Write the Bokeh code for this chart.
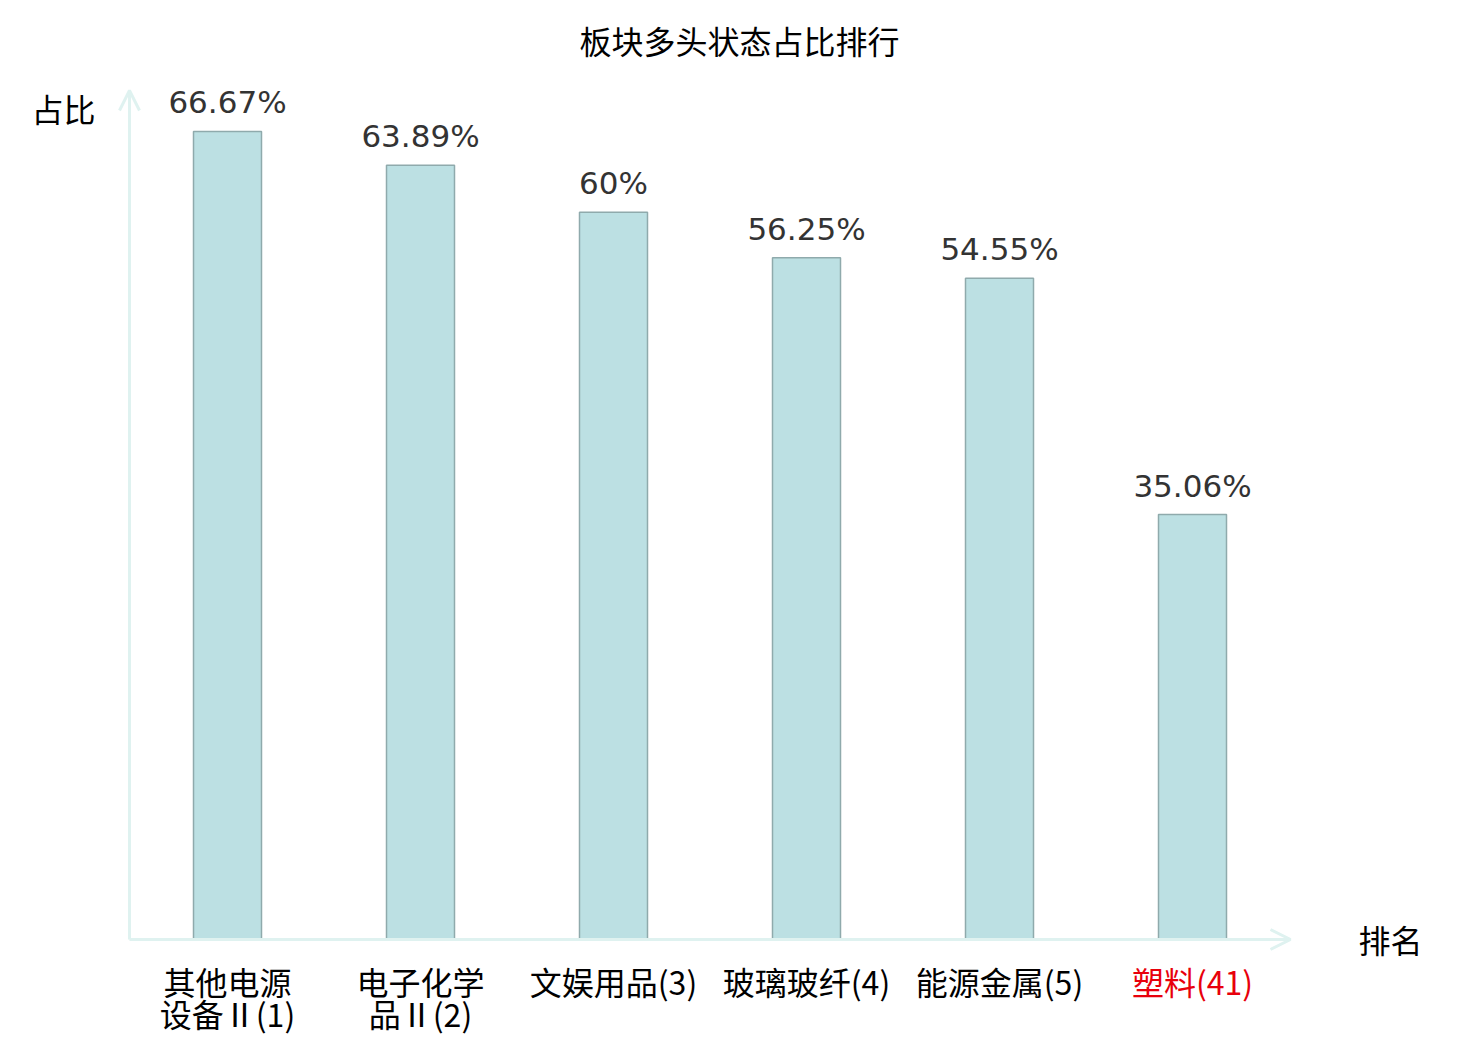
from bokeh.plotting import figure
from bokeh.models import Range1d, Arrow, OpenHead, ColumnDataSource, Label
from bokeh.core.properties import value
from bokeh.embed import file_html
from bokeh.resources import INLINE

categories_line1 = ["其他电源", "电子化学", "文娱用品(3)", "玻璃玻纤(4)", "能源金属(5)", "塑料(41)"]
categories_line2 = ["设备Ⅱ(1)", "品Ⅱ(2)", "", "", "", ""]
values = [66.67, 63.89, 60.0, 56.25, 54.55, 35.06]
value_labels = ["66.67%", "63.89%", "60%", "56.25%", "54.55%", "35.06%"]
label_colors = ["#000000", "#000000", "#000000", "#000000", "#000000", "#e8000b"]
title_text = "板块多头状态占比排行"
y_title = "占比"
x_title = "排名"

CJK = "Noto Sans CJK SC"
NUM = "DejaVu Sans"

W, H = 1470, 1036
X0, DX = 227.0, 193.0      # pixel of first category centre, pixel per category
Y0, DY = 939.0, 12.12      # pixel of value 0, pixel per percent

def px2x(px):
    return (px - X0) / DX

def px2y(py):
    return (Y0 - py) / DY

xs = list(range(len(values)))
src = ColumnDataSource(dict(x=xs, top=values, lab=value_labels,
                            l1=categories_line1, l2=categories_line2, col=label_colors))

p = figure(width=W, height=H, output_backend="svg", toolbar_location=None,
           x_range=Range1d(px2x(0), px2x(W)), y_range=Range1d(px2y(H), px2y(0)),
           min_border=0)
p.axis.visible = False
p.grid.visible = False
p.outline_line_color = None
p.background_fill_color = "white"
p.border_fill_color = "white"

p.vbar(x="x", top="top", bottom=0, width=68 / DX, source=src,
       fill_color="#bce0e3", line_color="#8faaac", line_width=1.5)

p.text(x="x", y="top", text="lab", source=src, text_align="center", text_baseline="alphabetic",
       y_offset=-16 - 13, text_font=value(NUM), text_font_size="31px", text_color="#333333")

p.text(x="x", y=0, text="l1", source=src, text_align="center", text_baseline="middle",
       y_offset=41, text_font=value(CJK), text_font_size="32px", text_color="col")
p.text(x="x", y=0, text="l2", source=src, text_align="center", text_baseline="middle",
       y_offset=73, text_font=value(CJK), text_font_size="32px", text_color="col")

axis_color = "#dff2f0"
p.add_layout(Arrow(x_start=px2x(129), y_start=0, x_end=px2x(1290), y_end=0,
                   line_color=axis_color, line_width=3,
                   end=OpenHead(size=20, line_color=axis_color, line_width=3)))
p.add_layout(Arrow(x_start=px2x(129), y_start=0, x_end=px2x(129), y_end=px2y(90),
                   line_color=axis_color, line_width=3,
                   end=OpenHead(size=20, line_color=axis_color, line_width=3)))

for txt, cx, cy in [(y_title, 63, 107), (x_title, 1390, 938), (title_text, 739, 39)]:
    p.add_layout(Label(x=px2x(cx), y=px2y(cy), text=txt, text_align="center",
                       text_baseline="middle", text_font=CJK,
                       text_font_size="32px", text_color="#000000"))

open("out.html", "w").write(file_html(p, INLINE))
